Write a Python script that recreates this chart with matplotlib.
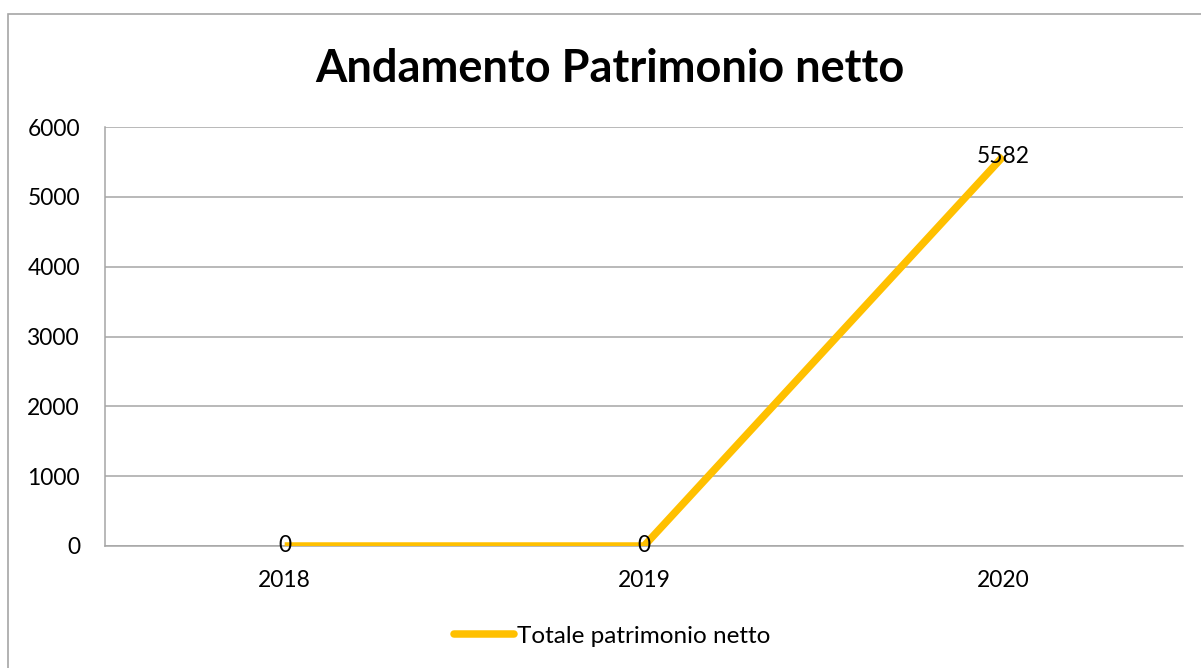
import matplotlib
matplotlib.use("Agg")
import matplotlib.pyplot as plt
from matplotlib.patches import Rectangle

years = ["2018", "2019", "2020"]
values = [0, 0, 5582]
yticks = [0, 1000, 2000, 3000, 4000, 5000, 6000]
title = "Andamento Patrimonio netto"
series_name = "Totale patrimonio netto"

plt.rcParams['font.family'] = ['Lato', 'DejaVu Sans']

fig = plt.figure(figsize=(12.01, 6.68), dpi=100)
ax = fig.add_axes([105/1201, 1-546/668, (1183-105)/1201, (546-127)/668])

# outer chart frame (cut off at right/bottom)
fig.patches.append(Rectangle((8/1201, -0.1), 1.2, (668-14.5)/668 + 0.1,
                             transform=fig.transFigure, fill=False,
                             edgecolor='#a6a6a6', linewidth=1.2))

FS = 16.4
x = list(range(len(years)))
ax.plot(x, values, color='#FFC000', linewidth=5.4, solid_capstyle='butt',
        solid_joinstyle='miter', zorder=3, label=series_name)
for xi, v in zip(x, values):
    ax.text(xi, v, str(v), ha='center', va='center', fontsize=FS,
            color='black', zorder=4)

ax.set_xlim(-0.5, len(years) - 0.5)
ax.set_ylim(0, 6000)
ax.set_yticks(yticks)
ax.set_yticklabels([str(t) for t in yticks], fontsize=FS)
ax.set_xticks(x)
ax.set_xticklabels(years, fontsize=FS)
ax.tick_params(length=0)
ax.tick_params(axis='y', pad=18)
ax.tick_params(axis='x', pad=17)

ax.grid(axis='y', color='#a6a6a6', linewidth=1.1)
ax.set_axisbelow(True)
for s in ['top', 'right']:
    ax.spines[s].set_visible(False)
for s in ['left', 'bottom']:
    ax.spines[s].set_color('#a6a6a6')
    ax.spines[s].set_linewidth(1.1)

fig.text(610/1201, 1-69/668, title, ha='center', va='center',
         fontsize=32.5, fontweight='bold')

leg = fig.legend(loc='center', bbox_to_anchor=(612/1201, 1-636/668),
                 frameon=False, fontsize=17.5, handlelength=2.5,
                 handletextpad=0.1)
for h in leg.get_lines():
    h.set_solid_capstyle('round')

fig.savefig("out.png", dpi=100)
